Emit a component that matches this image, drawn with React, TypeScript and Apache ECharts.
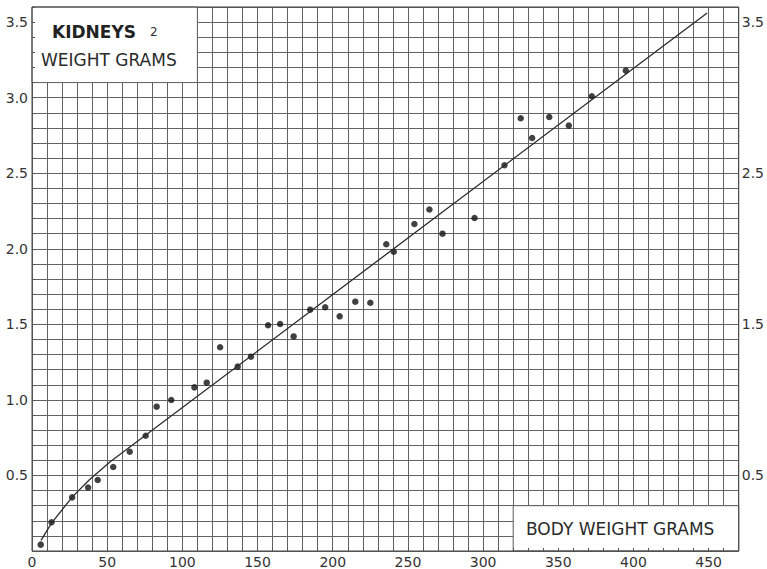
import React, { useEffect, useRef } from "react";
import * as echarts from "echarts";

// Body weight (g) and kidney weight (g) observations
const bodyWeight = [5.8, 13, 26.7, 37.3, 43.7, 54, 65, 75.6, 82.9, 92.6, 108, 116.2, 125.1, 136.8, 145.6, 157, 165, 174, 185, 195, 204.6, 215, 225, 235.6, 240.6, 254.3, 264.3, 273, 294.3, 314.2, 325, 332.6, 344, 357, 372.3, 394.9];
const kidneyWeight = [0.042, 0.19, 0.355, 0.42, 0.47, 0.556, 0.657, 0.763, 0.955, 0.999, 1.083, 1.114, 1.348, 1.22, 1.286, 1.494, 1.502, 1.42, 1.597, 1.613, 1.553, 1.65, 1.643, 2.03, 1.98, 2.164, 2.26, 2.1, 2.204, 2.553, 2.864, 2.733, 2.872, 2.815, 3.009, 3.179];

// Fitted curve
const fitX = [6, 13, 27, 38, 52, 449];
const fitY = [0.07, 0.185, 0.36, 0.47, 0.59, 3.56];

// Tick labels
const xTickLabels = [0, 50, 100, 150, 200, 250, 300, 350, 400, 450];
const yLeftLabels = [0.5, 1.0, 1.5, 2.0, 2.5, 3.0, 3.5];
const yRightLabels = [0.5, 1.5, 2.5, 3.5];

// Blank label panels (data space)
const titlePanel = [[0, 3.1], [110, 3.6]];
const axisTitlePanel = [[320, 0], [470, 0.3]];

const X_MIN = 0, X_MAX = 470, Y_MIN = 0, Y_MAX = 3.6;

export default function App() {
  const ref = useRef<HTMLDivElement>(null);
  useEffect(() => {
    if (!ref.current) return;
    const chart = echarts.init(ref.current, null, { renderer: "svg" });
    const font = "DejaVu Sans";
    const gridColor = "#626262";
    const labelStyle = { fontFamily: font, fontSize: 14, color: "#333" };
    const yFmt = (list: number[]) => (v: number) => {
      const r = Math.round(v * 10) / 10;
      return list.some((l) => Math.abs(l - r) < 1e-6) ? r.toFixed(1) : "";
    };
    chart.setOption({
      animation: false,
      backgroundColor: "#fff",
      grid: {
        left: 32, right: 26, top: 7, bottom: 18,
        show: true, z: 10, backgroundColor: "transparent",
        borderColor: "#444", borderWidth: 1,
      },
      xAxis: [
        {
          type: "value", min: X_MIN, max: X_MAX, interval: 10, position: "bottom", z: 0,
          axisLine: { show: false }, axisTick: { show: false },
          splitLine: { show: true, lineStyle: { color: gridColor, width: 1 } },
          axisLabel: {
            ...labelStyle, margin: 4,
            formatter: (v: number) => (xTickLabels.includes(Math.round(v)) ? String(Math.round(v)) : ""),
          },
        },
        {
          type: "value", min: X_MIN, max: X_MAX, interval: 10, position: "bottom", z: 10,
          axisLine: { show: false }, splitLine: { show: false }, axisLabel: { show: false },
          axisTick: { show: true, inside: true, length: 3, lineStyle: { color: "#555" } },
        },
      ],
      yAxis: [
        {
          type: "value", min: Y_MIN, max: Y_MAX, interval: 0.1, position: "left", z: 0,
          axisLine: { show: false }, axisTick: { show: false },
          splitLine: { show: true, lineStyle: { color: gridColor, width: 1 } },
          axisLabel: { ...labelStyle, margin: 4, formatter: yFmt(yLeftLabels) },
        },
        {
          type: "value", min: Y_MIN, max: Y_MAX, interval: 0.1, position: "right", z: 10,
          axisLine: { show: false }, axisTick: { show: false }, splitLine: { show: false },
          axisLabel: { ...labelStyle, margin: 3, formatter: yFmt(yRightLabels) },
        },
        {
          type: "value", min: Y_MIN, max: Y_MAX, interval: 0.1, position: "left", z: 10,
          axisLine: { show: false }, splitLine: { show: false }, axisLabel: { show: false },
          axisTick: { show: true, inside: true, length: 3, lineStyle: { color: "#555" } },
        },
      ],
      series: [
        {
          type: "scatter",
          xAxisIndex: 0, yAxisIndex: 0,
          data: bodyWeight.map((x, i) => [x, kidneyWeight[i]]),
          symbol: "circle", symbolSize: 6.5,
          itemStyle: { color: "#111" },
          markArea: {
            silent: true,
            itemStyle: { color: "#fff", borderColor: gridColor, borderWidth: 1 },
            data: [
              [{ coord: titlePanel[0] }, { coord: titlePanel[1] }],
              [{ coord: axisTitlePanel[0] }, { coord: axisTitlePanel[1] }],
            ],
          },
          z: 3,
        },
        {
          type: "line",
          xAxisIndex: 0, yAxisIndex: 0,
          data: fitX.map((x, i) => [x, fitY[i]]),
          showSymbol: false, symbol: "none",
          lineStyle: { color: "#2a2a2a", width: 1.3 },
          z: 4,
        },
      ],
      graphic: [
        { type: "text", left: 52, top: 23, z: 20, style: { text: "KIDNEYS", fontFamily: font, fontWeight: "bold", fontSize: 17, fill: "#222" } },
        { type: "text", left: 150, top: 26, z: 20, style: { text: "2", fontFamily: font, fontSize: 12, fill: "#333" } },
        { type: "text", left: 41, top: 51, z: 20, style: { text: "WEIGHT GRAMS", fontFamily: font, fontSize: 17, fill: "#2a2a2a" } },
        { type: "text", left: 526, top: 520, z: 20, style: { text: "BODY WEIGHT GRAMS", fontFamily: font, fontSize: 17, fill: "#2a2a2a" } },
      ],
    });
    return () => chart.dispose();
  }, []);
  return <div ref={ref} style={{ position: "absolute", left: 0, top: 0, width: 767, height: 569 }} />;
}
